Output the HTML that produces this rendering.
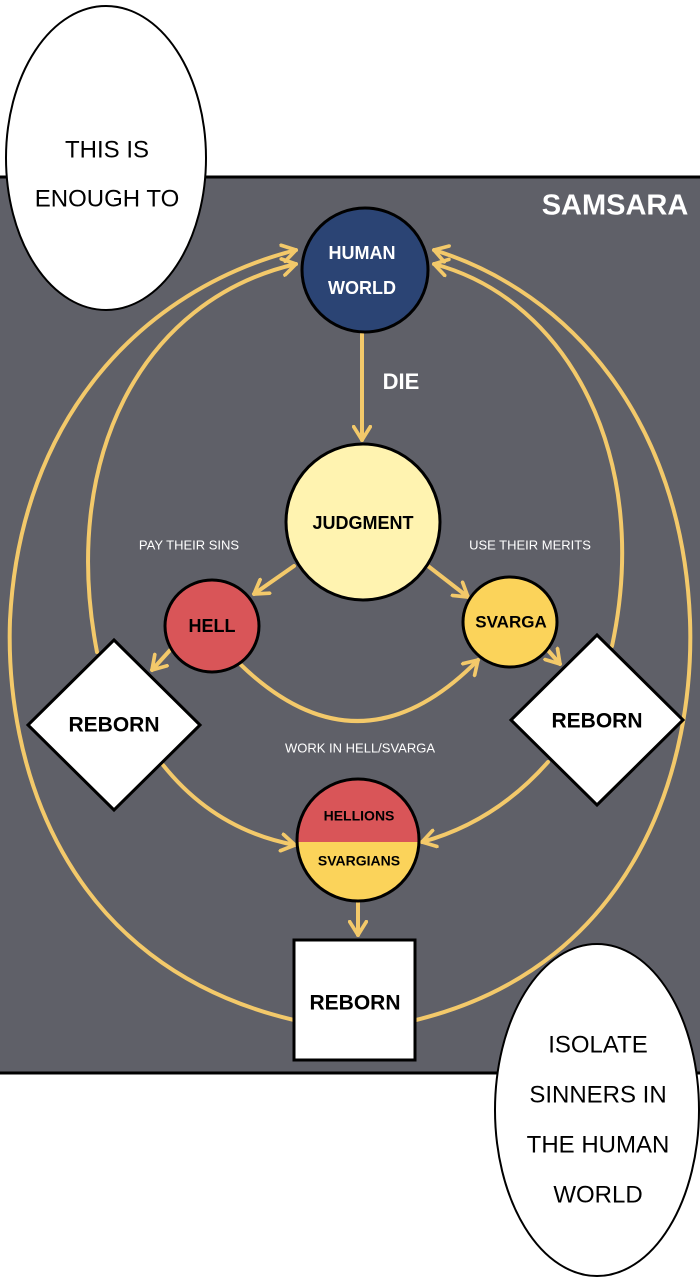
<!DOCTYPE html>
<html><head><style>
html,body{margin:0;padding:0;background:#fff;}
svg{display:block;}
text{font-family:"Liberation Sans",sans-serif;text-anchor:middle;dominant-baseline:middle;}
</style></head><body>
<svg width="700" height="1280" viewBox="0 0 700 1280" xmlns="http://www.w3.org/2000/svg">
<defs>
<marker id="ah" viewBox="0 0 12 12" refX="9" refY="6" markerWidth="5" markerHeight="5" orient="auto" markerUnits="strokeWidth">
<path d="M1,1 L9,6 L1,11" fill="none" stroke="#f3c96a" stroke-width="2.2" stroke-linecap="round" stroke-linejoin="round"/>
</marker>
</defs>
<rect x="0" y="0" width="700" height="1280" fill="#fff"/>
<rect x="-2" y="177" width="704" height="896" fill="#5f6068" stroke="#000" stroke-width="3"/>
<text x="615" y="207" fill="#fff" font-size="29" font-weight="bold">SAMSARA</text>

<g fill="none" stroke="#f3c96a" stroke-width="4" stroke-linecap="round">
<path d="M97,652 C 60,460 140,300 296,264" marker-end="url(#ah)"/>
<path d="M294,1020 C 60,965 5,760 10,620 C 20,420 140,290 296,250" marker-end="url(#ah)"/>
<path d="M612,646 C 652,460 570,300 434,264" marker-end="url(#ah)"/>
<path d="M416,1020 C 640,965 695,760 690,620 C 682,420 570,292 434,250" marker-end="url(#ah)"/>
<path d="M362,334 L362,440" marker-end="url(#ah)"/>
<path d="M294,566 L254,594" marker-end="url(#ah)"/>
<path d="M428,566 L468,597" marker-end="url(#ah)"/>
<path d="M172,648 L152,670" marker-end="url(#ah)"/>
<path d="M546,648 L560,664" marker-end="url(#ah)"/>
<path d="M240,664 Q 360,780 478,660" marker-end="url(#ah)"/>
<path d="M163,765 Q 215,830 295,845" marker-end="url(#ah)"/>
<path d="M548,762 Q 495,822 422,842" marker-end="url(#ah)"/>
<path d="M358,902 L358,935" marker-end="url(#ah)"/>
</g>

<g stroke="#000" stroke-width="3">
<ellipse cx="365" cy="270" rx="63" ry="62" fill="#2b4474"/>
<ellipse cx="363" cy="522" rx="77" ry="78" fill="#fff3b0"/>
<ellipse cx="212" cy="626" rx="47" ry="46" fill="#d95558"/>
<ellipse cx="510" cy="622" rx="47" ry="45" fill="#fbd35a"/>
<polygon points="114,640 200,725 114,810 28,725" fill="#fff"/>
<polygon points="597,635 683,720 597,805 511,720" fill="#fff"/>
<rect x="294" y="940" width="121" height="120" fill="#fff"/>
</g>
<clipPath id="hc"><ellipse cx="358" cy="840" rx="61" ry="61"/></clipPath>
<g clip-path="url(#hc)">
<rect x="290" y="770" width="140" height="72" fill="#d95558"/>
<rect x="290" y="842" width="140" height="70" fill="#fbd35a"/>
</g>
<ellipse cx="358" cy="840" rx="61" ry="61" fill="none" stroke="#000" stroke-width="3"/>

<text x="362" y="254" fill="#fff" font-size="18" font-weight="bold">HUMAN</text>
<text x="362" y="289" fill="#fff" font-size="18" font-weight="bold">WORLD</text>
<text x="401" y="383" fill="#fff" font-size="22" font-weight="bold">DIE</text>
<text x="363" y="524" fill="#000" font-size="18" font-weight="bold">JUDGMENT</text>
<text x="212" y="627" fill="#000" font-size="18" font-weight="bold">HELL</text>
<text x="511" y="623" fill="#000" font-size="17" font-weight="bold">SVARGA</text>
<text x="189" y="546" fill="#fff" font-size="13">PAY THEIR SINS</text>
<text x="530" y="546" fill="#fff" font-size="13">USE THEIR MERITS</text>
<text x="360" y="749" fill="#fff" font-size="13">WORK IN HELL/SVARGA</text>
<text x="114" y="726" fill="#000" font-size="21" font-weight="bold">REBORN</text>
<text x="597" y="722" fill="#000" font-size="21" font-weight="bold">REBORN</text>
<text x="359" y="817" fill="#000" font-size="14" font-weight="bold">HELLIONS</text>
<text x="359" y="862" fill="#000" font-size="14" font-weight="bold">SVARGIANS</text>
<text x="355" y="1004" fill="#000" font-size="21" font-weight="bold">REBORN</text>

<ellipse cx="106" cy="158" rx="100" ry="152" fill="#fff" stroke="#000" stroke-width="2"/>
<text x="107" y="151" fill="#000" font-size="24">THIS IS</text>
<text x="107" y="200" fill="#000" font-size="24">ENOUGH TO</text>
<ellipse cx="597" cy="1110" rx="102" ry="166" fill="#fff" stroke="#000" stroke-width="2"/>
<text x="598" y="1046" fill="#000" font-size="24">ISOLATE</text>
<text x="598" y="1096" fill="#000" font-size="24">SINNERS IN</text>
<text x="598" y="1146" fill="#000" font-size="24">THE HUMAN</text>
<text x="598" y="1196" fill="#000" font-size="24">WORLD</text>
</svg>
</body></html>
